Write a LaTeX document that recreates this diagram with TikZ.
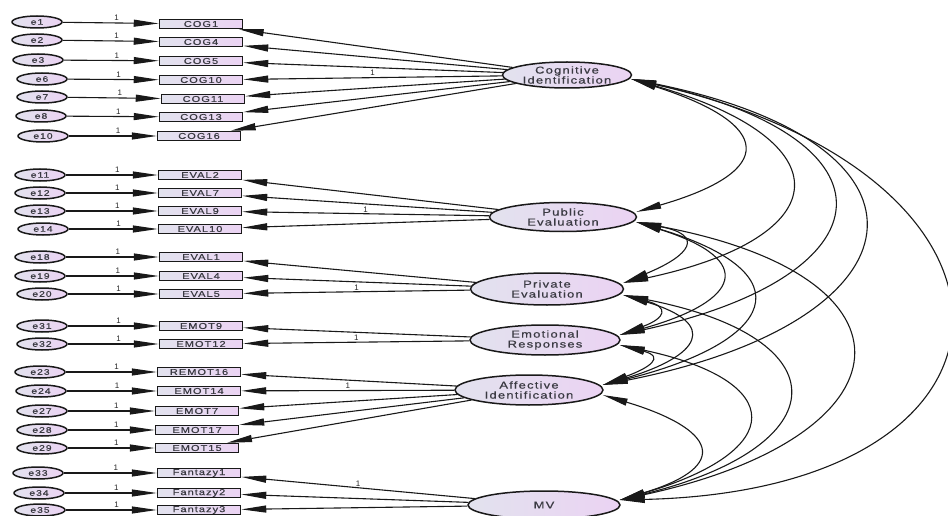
\documentclass[tikz,border=0pt]{standalone}
\usepackage{fontspec}
\setmainfont{Liberation Sans}
\newfontfamily\widefont[FakeStretch=1.3,LetterSpace=12,FakeBold=0.6]{Liberation Sans}
\usetikzlibrary{arrows.meta,shapes.geometric,calc}
\definecolor{shL}{HTML}{E2E2EE}
\definecolor{shR}{HTML}{EBD3F3}
\definecolor{txtc}{HTML}{3A3A42}
\begin{document}
\begin{tikzpicture}[x=1pt,y=-1pt,
 err/.style={ellipse, draw=black!90, line width=1.5pt, left color=shL, right color=shR,
   minimum width=50pt, minimum height=12pt, inner sep=0pt, text=txtc,
   font=\widefont\fontsize{8}{8}\selectfont},
 obs/.style={rectangle, draw=black!90, line width=1.5pt, left color=shL, right color=shR,
   minimum width=83pt, minimum height=9pt, inner sep=0pt, text=txtc,
   font=\widefont\fontsize{8.5}{8.5}\selectfont},
 lat/.style={ellipse, draw=black!90, line width=1.5pt, left color=shL, right color=shR,
   inner sep=0pt, align=center, text=txtc,
   font=\widefont\fontsize{10}{10}\selectfont},
 arr/.style={-{Triangle[length=25pt,width=7pt]}, line width=1.1pt, draw=black!90},
 cov/.style={{Triangle[length=25pt,width=7pt]}-{Triangle[length=25pt,width=7pt]}, line width=1.1pt, draw=black!90},
 one/.style={font=\fontsize{8}{8}\selectfont, inner sep=1.5pt, text=black!85}
]
\useasboundingbox (0,0) rectangle (948,516);

% latent factors
\node[lat, minimum width=129pt, minimum height=26pt] (cog) at (567,75) {Cognitive\\Identification};
\node[lat, minimum width=147pt, minimum height=29pt] (pub) at (563,217) {Public\\Evaluation};
\node[lat, minimum width=153pt, minimum height=32pt] (pri) at (547,289) {Private\\Evaluation};
\node[lat, minimum width=150pt, minimum height=30pt] (emo) at (545,340) {Emotional\\Responses};
\node[lat, minimum width=148pt, minimum height=30pt] (aff) at (529,390) {Affective\\Identification};
\node[lat, minimum width=152pt, minimum height=28pt] (mv) at (544,505) {MV};

% error terms and observed variables
\foreach \e/\ex/\ey/\b/\bx/\by/\lab/\f in {
 e1/37/22/COG1/201/24/COG1/cog, e2/37/40/COG4/201/42/COG4/cog, e3/38/60/COG5/201/61/COG5/cog,
 e6/42/79/COG10/201/80/COG10/cog, e7/42/97/COG11/203/99/COG11/cog, e8/41/116/COG13/201/117/COG13/cog,
 e10/43/136/COG16/199/136/COG16/cog,
 e11/40/175/EVAL2/200/175/EVAL2/pub, e12/40/193/EVAL7/200/193/EVAL7/pub, e13/40/211/EVAL9/200/211/EVAL9/pub,
 e14/43/229/EVAL10/200/229/EVAL10/pub,
 e18/40/257/EVAL1/201/257/EVAL1/pri, e19/40/276/EVAL4/201/276/EVAL4/pri, e20/42/294/EVAL5/201/294/EVAL5/pri,
 e31/42/326/EMOT9/201/326/EMOT9/emo, e32/42/344/EMOT12/201/344/EMOT12/emo,
 e23/40/372/REMOT16/199/372/REMOT16/aff, e24/41/391/EMOT14/199/391/EMOT14/aff, e27/42/411/EMOT7/197/411/EMOT7/aff,
 e28/42/430/EMOT17/197/430/EMOT17/aff, e29/42/448/EMOT15/197/448/EMOT15/aff,
 e33/38/473/Fantazy1/199/473/Fantazy1/mv, e34/39/493/Fantazy2/199/493/Fantazy2/mv, e35/40/510/Fantazy3/199/510/Fantazy3/mv}
{
 \node[err] (\e) at (\ex,\ey) {\e};
 \node[obs] (\b) at (\bx,\by) {\lab};
 \draw[arr] (\e) -- (\b) node[one, pos=0.56, above] {1};
 \draw[arr] (\f) -- (\b);
}

% fixed loadings labels
\path (cog) -- (COG10) node[one, pos=0.5, above] {1};
\path (pub) -- (EVAL9) node[one, pos=0.5, above] {1};
\path (pri) -- (EVAL5) node[one, pos=0.5, above] {1};
\path (emo) -- (EMOT12) node[one, pos=0.5, above] {1};
\path (aff) -- (EMOT14) node[one, pos=0.5, above] {1};
\path (mv) -- (Fantazy1) node[one, pos=0.5, above] {1};

% covariance end points
\coordinate (cogL) at ($(cog.east)+(-1,4)$);
\coordinate (pubU) at ($(pub.east)+(-1,-5)$);
\coordinate (pubL) at ($(pub.east)+(-1,5)$);
\coordinate (priU) at ($(pri.east)+(-1,-6)$);
\coordinate (priL) at ($(pri.east)+(-1,6)$);
\coordinate (emoU) at ($(emo.east)+(-1,-5)$);
\coordinate (emoL) at ($(emo.east)+(-1,5)$);
\coordinate (affU) at ($(aff.east)+(-1,-5)$);
\coordinate (affL) at ($(aff.east)+(-1,5)$);
\coordinate (mvU) at ($(mv.east)+(-1,-5)$);

% covariances
\draw[cov] (cogL) .. controls +(142,45) and +(142,-41) .. (pubU);
\draw[cov] (cogL) .. controls +(215,62) and +(215,-46) .. (priU);
\draw[cov] (cogL) .. controls +(273,60) and +(273,-60) .. (emoU);
\draw[cov] (cogL) .. controls +(325,66) and +(325,-64) .. (affU);
\draw[cov] (cogL) .. controls +(428,98) and +(428,-10) .. (mvU);
\draw[cov] (pubL) .. controls +(68,13) and +(68,-28) .. (priU);
\draw[cov] (pubL) .. controls +(121,38) and +(121,-34) .. (emoU);
\draw[cov] (pubL) .. controls +(172,52) and +(172,-43) .. (affU);
\draw[cov] (pubL) .. controls +(294,55) and +(294,-64) .. (mvU);
\draw[cov] (priL) .. controls +(46,12) and +(46,-17) .. (emoU);
\draw[cov] (priL) .. controls +(97,29) and +(97,-29) .. (affU);
\draw[cov] (priL) .. controls +(219,43) and +(219,-54) .. (mvU);
\draw[cov] (emoL) .. controls +(46,12) and +(46,-17) .. (affU);
\draw[cov] (emoL) .. controls +(168,36) and +(168,-49) .. (mvU);
\draw[cov] (affL) .. controls +(113,34) and +(113,-34) .. (mvU);
\end{tikzpicture}
\end{document}
